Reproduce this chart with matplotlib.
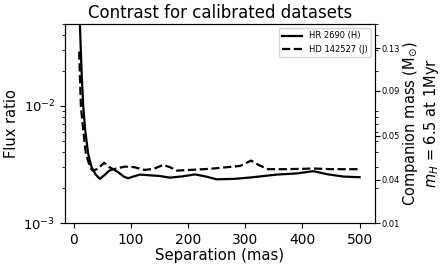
import matplotlib
matplotlib.use("Agg")
import matplotlib.pyplot as plt
import numpy as np

# Data
sep_hr = [10, 13.4, 16.4, 19.9, 25, 31, 38, 45.6, 55, 62, 69, 78, 88, 95, 105, 115.6, 135, 150, 168, 190, 212, 230, 250, 280, 310, 355, 390, 419, 445, 472, 500]
flux_hr = [0.06, 0.0203, 0.010, 0.0062, 0.0039, 0.0030, 0.0026, 0.00238, 0.0026, 0.0028, 0.00288, 0.0027, 0.00248, 0.00241, 0.0025, 0.00259, 0.00255, 0.00252, 0.00244, 0.0025, 0.0026, 0.0025, 0.00236, 0.00238, 0.00245, 0.00259, 0.00265, 0.00277, 0.0026, 0.00249, 0.00246]

sep_hd = [9.3, 12.3, 16.4, 21, 29, 33, 42, 53, 62, 69, 80, 89, 105, 124, 140, 156, 168, 180, 210, 238, 260, 291, 310, 325, 340, 370, 400, 419, 450, 480, 498]
flux_hd = [0.0291, 0.010, 0.0062, 0.0039, 0.00294, 0.0028, 0.0029, 0.00327, 0.0030, 0.00288, 0.00296, 0.00303, 0.0030, 0.00284, 0.0029, 0.00313, 0.0030, 0.0028, 0.00285, 0.0029, 0.00297, 0.00307, 0.00341, 0.0031, 0.00288, 0.00288, 0.0029, 0.00292, 0.00288, 0.00288, 0.00288]

mass_tick_flux = [0.0311, 0.0135, 0.00555, 0.00233, 0.001]
mass_tick_labels = ["0.13", "0.09", "0.05", "0.04", "0.01"]

fig = plt.figure(figsize=(4.43, 2.69), dpi=100)
ax = fig.add_axes([0.1467, 0.171, 0.6998, 0.7398])
ax.plot(sep_hr, flux_hr, 'k-', lw=1.6, label="HR 2690 (H)")
ax.plot(sep_hd, flux_hd, 'k--', lw=1.6, label="HD 142527 (J)")
ax.set_yscale('log')
ax.set_ylim(1e-3, 0.05)
ax.set_xlim(-15.5, 527)
ax.set_xticks([0, 100, 200, 300, 400, 500])
ax.tick_params(axis='x', which='major', labelsize=10)
ax.tick_params(axis='y', which='major', labelsize=9.5)
ax.set_xlabel("Separation (mas)", fontsize=10.7, labelpad=1)
ax.set_ylabel("Flux ratio", fontsize=10.5, labelpad=3)
ax.set_title("Contrast for calibrated datasets", fontsize=12, pad=4)
ax.legend(loc='upper right', fontsize=6, handlelength=2.4)

ax2 = ax.twinx()
ax2.set_yscale('log')
ax2.set_ylim(1e-3, 0.05)
ax2.set_yticks(mass_tick_flux, mass_tick_labels)
ax2.tick_params(axis='y', which='major', labelsize=6, pad=1.5)
ax2.set_ylabel("Companion mass (M$_{\\odot}$)\n$m_H$ = 6.5 at 1Myr", fontsize=10.5, labelpad=1, linespacing=1.1)

fig.savefig("out.png", dpi=100)
